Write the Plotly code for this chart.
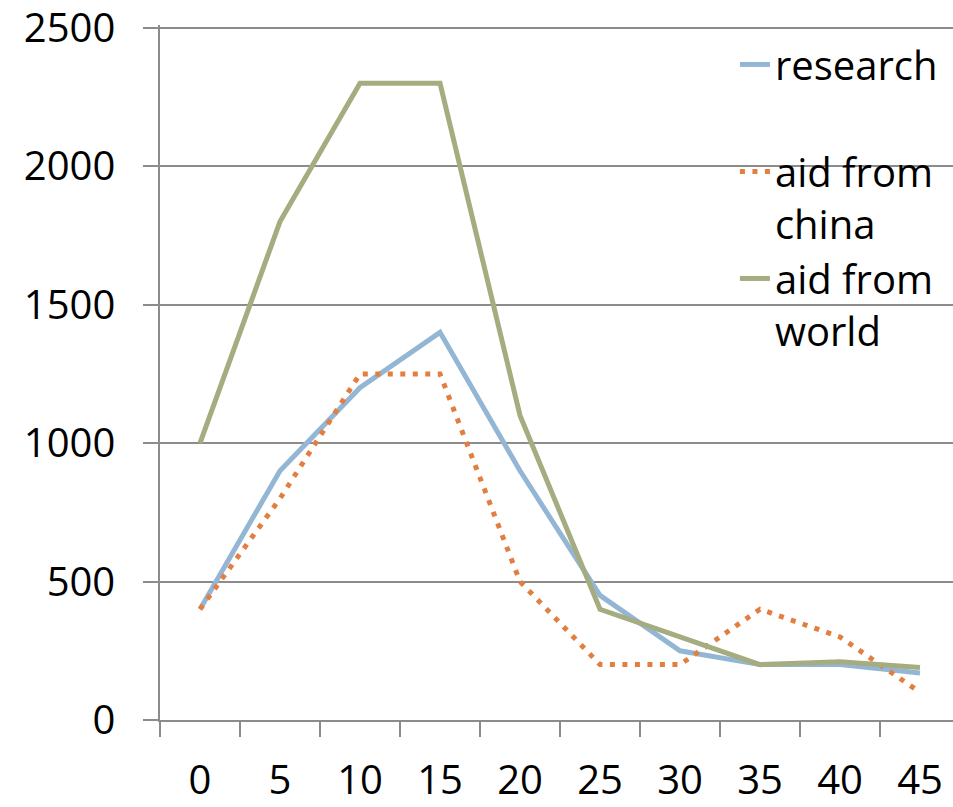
import plotly.graph_objects as go

categories = ["0", "5", "10", "15", "20", "25", "30", "35", "40", "45"]
research = [400, 900, 1200, 1400, 900, 450, 250, 200, 200, 170]
aid_china = [400, 800, 1250, 1250, 500, 200, 200, 400, 300, 100]
aid_world = [1000, 1800, 2300, 2300, 1100, 400, 300, 200, 210, 190]
y_ticks = [0, 500, 1000, 1500, 2000, 2500]

FONT = "Open Sans"
GRID = "#8c8c8c"

fig = go.Figure()
fig.add_trace(go.Scatter(x=categories, y=research, mode="lines",
                         name="research<br>\u00a0",
                         line=dict(color="#94B6D5", width=5)))
fig.add_trace(go.Scatter(x=categories, y=aid_china, mode="lines",
                         name="aid from<br>china",
                         line=dict(color="#E27F40", width=5, dash="5px,7.5px")))
fig.add_trace(go.Scatter(x=categories, y=aid_world, mode="lines",
                         name="aid from<br>world",
                         line=dict(color="#A4AC80", width=5)))

fig.update_layout(
    width=953, height=807,
    margin=dict(l=160, r=0, t=25, b=87),
    paper_bgcolor="white", plot_bgcolor="white",
    font=dict(family=FONT, size=40, color="black"),
    legend=dict(x=0.725, xanchor="left", y=0.99, yanchor="top",
                valign="top", bgcolor="rgba(0,0,0,0)",
                font=dict(family=FONT, size=40, color="black")),
    xaxis=dict(type="category", range=[-0.5, 9.4125], automargin=False,
               showgrid=False, showline=True, linecolor=GRID, linewidth=1.5,
               ticks="outside", tickson="boundaries", ticklen=15,
               tickcolor=GRID, tickwidth=1.5, ticklabelstandoff=24,
               tickfont=dict(family=FONT, size=40), zeroline=False),
    yaxis=dict(range=[0, 2510], tickmode="linear", tick0=0, dtick=500,
               automargin=False, ticklabeloverflow="allow",
               showgrid=True, gridcolor=GRID, gridwidth=1.5,
               showline=True, linecolor=GRID, linewidth=1.5,
               ticks="outside", ticklen=15, tickcolor=GRID, tickwidth=1.5,
               ticklabelstandoff=20, zeroline=False,
               tickfont=dict(family=FONT, size=40)),
)

fig.write_html("out.html")
